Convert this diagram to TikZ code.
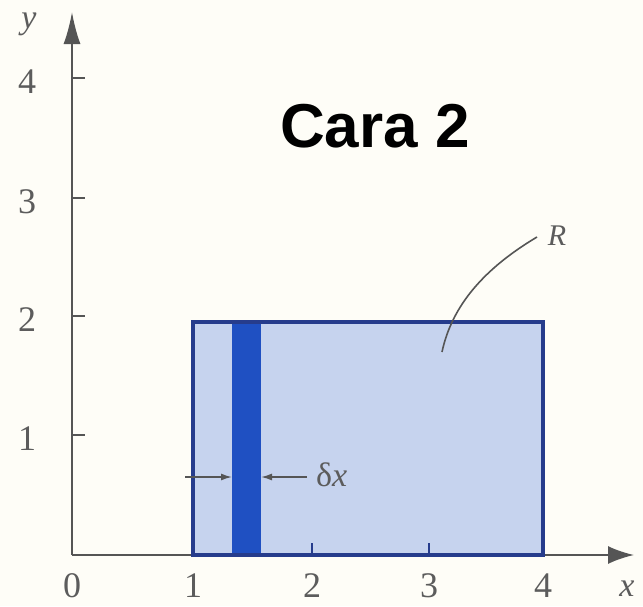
\documentclass[tikz,border=0pt]{standalone}
\usepackage{fontspec}
\setmainfont{Liberation Serif}
\newfontfamily\headfont{Liberation Sans}
\usetikzlibrary{arrows.meta}
\definecolor{axisgray}{HTML}{555555}
\definecolor{labgray}{HTML}{5C5C5C}
\definecolor{regionfill}{HTML}{C6D3EE}
\definecolor{regionedge}{HTML}{263C8C}
\definecolor{stripblue}{HTML}{1F50C2}
\definecolor{paper}{HTML}{FEFDF7}
\tikzset{
  axisline/.style={draw=axisgray, line width=2pt},
  ticklab/.style={text=labgray, font=\fontsize{36}{40}\selectfont, inner sep=0pt},
  varlab/.style={text=labgray, font=\fontsize{34}{38}\selectfont\itshape, inner sep=0pt},
  tickmark/.style={draw=axisgray, line width=2pt},
  dimarrow/.style={draw=axisgray, line width=1.5pt, -{Latex[length=11,width=7]}},
}
\begin{document}
\begin{tikzpicture}[x=1pt,y=-1pt]
\useasboundingbox (0,0) rectangle (643,606);
\fill[paper] (0,0) rectangle (643,606);
% key points
\coordinate (O) at (72,555);
\coordinate (xend) at (634,555);
\coordinate (yend) at (72,12);
\coordinate (rectNW) at (193,322);
\coordinate (rectSE) at (543,555);
\coordinate (stripNW) at (232,322);
\coordinate (stripSE) at (261,555);
% axes
\draw[axisline, -{Latex[length=26,width=18]}] (O) -- (xend);
\draw[axisline, -{Latex[length=32,width=17]}] (O) -- (yend);
% region R
\fill[regionfill] (rectNW) rectangle (rectSE);
\fill[stripblue] (stripNW) rectangle (stripSE);
\draw[regionedge, line width=3.2pt] (rectNW) rectangle (rectSE);
% y ticks
\foreach \yy/\lab in {435/1, 316/2, 198/3, 78/4}{
  \draw[tickmark] (72,\yy) -- (85,\yy);
  \node[ticklab] (ylab\lab) at (27,\yy+4) {\lab};
}
% x ticks
\draw[tickmark, draw=regionedge] (312,555) -- (312,543);
\draw[tickmark, draw=regionedge] (429,555) -- (429,543);
\foreach \xx/\lab in {72/0, 193/1, 312/2, 429/3, 543/4}{
  \node[ticklab] (xlab\lab) at (\xx,586) {\lab};
}
% axis names
\node[varlab] (ylabel) at (29,24) {y};
\node[varlab] (xlabel) at (627,589) {x};
% delta x arrows
\coordinate (dl) at (185,477);
\coordinate (dr) at (307,477);
\draw[dimarrow] (dl) -- (stripNW |- dl);
\draw[dimarrow] (dr) -- (stripSE |- dr);
\node[text=labgray, font=\fontsize{34}{38}\selectfont, anchor=west, inner sep=0pt] (dx) at (316,475) {δ\textit{x}};
% R label
\node[varlab, font=\fontsize{30}{34}\selectfont\itshape] (Rlab) at (557,236) {R};
\coordinate (Rpt) at (442,352);
\draw[draw=axisgray, line width=1.6pt] (537,237) .. controls (485,268) and (452,305) .. (Rpt);
% title
\node[font=\headfont\bfseries\fontsize{62}{66}\selectfont, inner sep=0pt] (title) at (375,126) {Cara 2};
\end{tikzpicture}
\end{document}
